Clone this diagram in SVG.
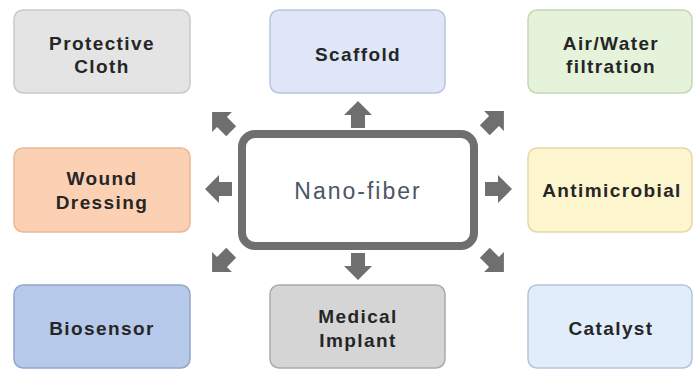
<svg xmlns="http://www.w3.org/2000/svg" width="695" height="370" viewBox="0 0 695 370">
  <style>
    .box { stroke-width: 1.5; }
    .lbl { font-family: "Liberation Sans", Arial, sans-serif; font-weight: bold; font-size: 19px; letter-spacing: 1.4px; fill: #262626; text-anchor: middle; }
    .center { font-family: "Liberation Sans", Arial, sans-serif; font-size: 23px; letter-spacing: 2px; fill: #4a5666; text-anchor: middle; }
    .arr { fill: #6f6f6f; }
  </style>
  <defs>
    <polygon id="arrow" points="-13,-7 0,-7 0,-14 14,0 0,14 0,7 -13,7"/>
  </defs>
  <rect width="695" height="370" fill="#ffffff"/>

  <g id="protective-cloth">
    <rect class="box" x="14" y="10" width="176" height="83" rx="9" fill="#e4e4e4" stroke="#c9c9c9"/>
    <text class="lbl" x="102" y="50">Protective</text>
    <text class="lbl" x="102" y="73">Cloth</text>
  </g>
  <g id="scaffold">
    <rect class="box" x="270" y="10" width="175" height="83" rx="9" fill="#dee6f8" stroke="#b9c5dd"/>
    <text class="lbl" x="358" y="61">Scaffold</text>
  </g>
  <g id="air-water-filtration">
    <rect class="box" x="528" y="10" width="164" height="83" rx="9" fill="#e4f3da" stroke="#c4d7b6"/>
    <text class="lbl" x="611" y="50">Air/Water</text>
    <text class="lbl" x="611" y="73">filtration</text>
  </g>
  <g id="wound-dressing">
    <rect class="box" x="14" y="148" width="176" height="84" rx="9" fill="#fcd0b3" stroke="#e8b898"/>
    <text class="lbl" x="102" y="185">Wound</text>
    <text class="lbl" x="102" y="209">Dressing</text>
  </g>
  <g id="nano-fiber">
    <rect x="242" y="134" width="232" height="112" rx="13" fill="#ffffff" stroke="#6f6f6f" stroke-width="8"/>
    <text class="center" x="358" y="199">Nano-fiber</text>
  </g>
  <g id="antimicrobial">
    <rect class="box" x="528" y="148" width="164" height="84" rx="9" fill="#fdf5cd" stroke="#e3d8a9"/>
    <text class="lbl" x="612" y="197">Antimicrobial</text>
  </g>
  <g id="biosensor">
    <rect class="box" x="14" y="285" width="176" height="83" rx="9" fill="#b6c9eb" stroke="#93a7c9"/>
    <text class="lbl" x="102" y="335">Biosensor</text>
  </g>
  <g id="medical-implant">
    <rect class="box" x="270" y="285" width="175" height="83" rx="9" fill="#d5d5d5" stroke="#ababab"/>
    <text class="lbl" x="358" y="323">Medical</text>
    <text class="lbl" x="358" y="347">Implant</text>
  </g>
  <g id="catalyst">
    <rect class="box" x="528" y="285" width="164" height="83" rx="9" fill="#e1edfb" stroke="#b5c5d9"/>
    <text class="lbl" x="611" y="335">Catalyst</text>
  </g>

  <g id="connectors" class="arr">
    <use href="#arrow" transform="translate(358,115) rotate(-90)"/>
    <use href="#arrow" transform="translate(358,266) rotate(90)"/>
    <use href="#arrow" transform="translate(219,189) rotate(180)"/>
    <use href="#arrow" transform="translate(498,189)"/>
    <use href="#arrow" transform="translate(222,122) rotate(-135)"/>
    <use href="#arrow" transform="translate(494,121) rotate(-45)"/>
    <use href="#arrow" transform="translate(222,262) rotate(135)"/>
    <use href="#arrow" transform="translate(494,262) rotate(45)"/>
  </g>
</svg>
